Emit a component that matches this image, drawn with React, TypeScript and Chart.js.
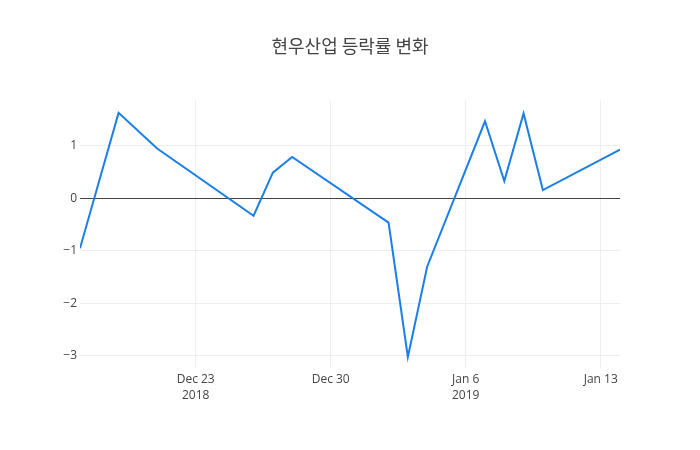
import React, { useEffect, useRef } from "react";
import { Chart, registerables } from "chart.js";

Chart.register(...registerables);

const titleText = "현우산업 등락률 변화";
const dates = [
  "2018-12-17", "2018-12-19", "2018-12-21", "2018-12-26", "2018-12-27", "2018-12-28",
  "2019-01-02", "2019-01-03", "2019-01-04", "2019-01-07", "2019-01-08", "2019-01-09",
  "2019-01-10", "2019-01-14",
];
const changeRates = [-0.95, 1.63, 0.95, -0.33, 0.49, 0.79, -0.46, -3.02, -1.3, 1.47, 0.33, 1.62, 0.16, 0.93];
const xTickDates = ["2018-12-23", "2018-12-30", "2019-01-06", "2019-01-13"];
const xTickLabels = [["Dec 23", "2018"], ["Dec 30"], ["Jan 6", "2019"], ["Jan 13"]];
const yTickValues = [-3, -2, -1, 0, 1];

const dayMs = 86400000;
const toDay = (s: string) => {
  const [y, m, d] = s.split("-").map(Number);
  return (Date.UTC(y, m - 1, d) - Date.UTC(2018, 11, 17)) / dayMs;
};

export default function App() {
  const ref = useRef<HTMLCanvasElement>(null);
  useEffect(() => {
    document.body.style.margin = "0";
    const canvas = ref.current!;
    const points = dates.map((d, i) => ({ x: toDay(d), y: changeRates[i] }));
    const xTicks = xTickDates.map(toDay);
    const titlePlugin = {
      id: "plotTitle",
      afterDraw(chart: any) {
        const ctx = chart.ctx;
        ctx.save();
        ctx.font = '18px "Noto Sans CJK KR", "Open Sans", sans-serif';
        ctx.fillStyle = "#444";
        ctx.textAlign = "center";
        ctx.textBaseline = "middle";
        ctx.fillText(titleText, 350, 46);
        ctx.restore();
      },
    };
    const chart = new Chart(canvas, {
      type: "line",
      data: {
        datasets: [
          {
            data: points,
            borderColor: "#1b7fe8",
            borderWidth: 2,
            pointRadius: 0,
            tension: 0,
            fill: false,
          },
        ],
      },
      options: {
        responsive: false,
        animation: false,
        layout: { padding: { top: 100, right: 80, left: 0, bottom: 0 } },
        plugins: { legend: { display: false }, title: { display: false }, tooltip: { enabled: false } },
        scales: {
          x: {
            type: "linear",
            min: 0,
            max: toDay(dates[dates.length - 1]),
            afterBuildTicks: (scale: any) => {
              scale.ticks = xTicks.map((v) => ({ value: v }));
            },
            afterFit: (scale: any) => {
              scale.height = 82;
            },
            grid: { color: "#eee", lineWidth: 1, drawTicks: false },
            border: { display: false },
            ticks: {
              padding: 3,
              maxRotation: 0,
              autoSkip: false,
              color: "#444",
              font: { family: '"Open Sans"', size: 12, lineHeight: 1.35 },
              callback: (v: any) => {
                const i = xTicks.indexOf(Number(v));
                return i >= 0 ? xTickLabels[i] : "";
              },
            },
          },
          y: {
            type: "linear",
            min: -3.23,
            max: 1.875,
            afterBuildTicks: (scale: any) => {
              scale.ticks = yTickValues.map((v) => ({ value: v }));
            },
            afterFit: (scale: any) => {
              scale.width = 80;
            },
            grid: {
              color: (c: any) => (c.tick && c.tick.value === 0 ? "#444" : "#eee"),
              lineWidth: 1,
              drawTicks: false,
            },
            border: { display: false },
            ticks: {
              padding: 3,
              color: "#444",
              font: { family: '"Open Sans"', size: 12 },
              callback: (v: any) => (Number(v) < 0 ? "\u2212" + Math.abs(Number(v)) : String(v)),
            },
          },
        },
      },
      plugins: [titlePlugin],
    } as any);
    return () => chart.destroy();
  }, []);
  return <canvas ref={ref} width={700} height={450} style={{ display: "block", width: 700, height: 450 }} />;
}
